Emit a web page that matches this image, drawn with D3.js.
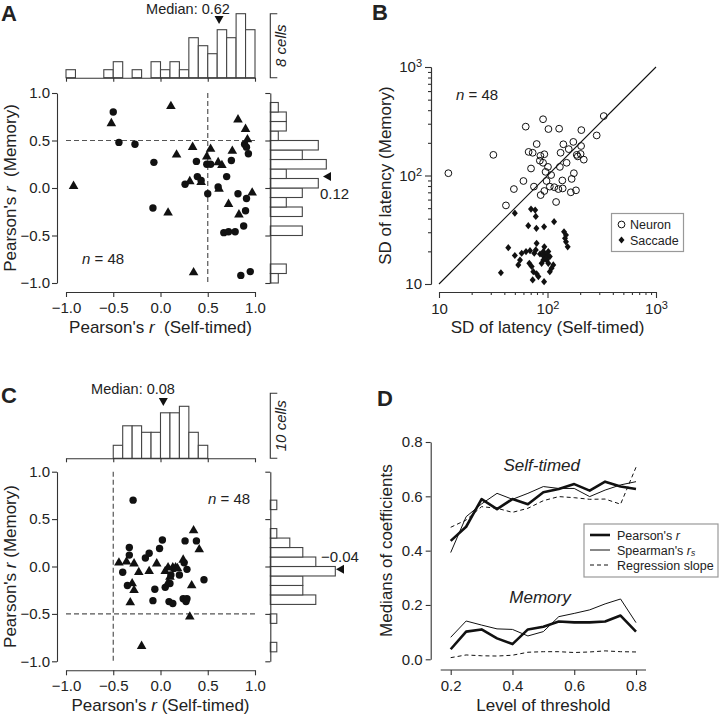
<!DOCTYPE html>
<html><head><meta charset="utf-8">
<script src="https://cdn.jsdelivr.net/npm/d3@7"></script>
<style>
body{margin:0;background:#fff}
svg{display:block}
text{font-family:"Liberation Sans",Arial,Helvetica,sans-serif;fill:#222}
</style>
</head><body>
<svg id="fig" width="720" height="716"></svg>
<script>
// ---------------- DATA ----------------
const rTicks = [-1, -0.5, 0, 0.5, 1];
const rTickLabels = ["\u22121.0", "\u22120.5", "0.0", "0.5", "1.0"];
const binStarts = [-1.0,-0.9,-0.8,-0.7,-0.6,-0.5,-0.4,-0.3,-0.2,-0.1,0.0,0.1,0.2,0.3,0.4,0.5,0.6,0.7,0.8,0.9];

// Panel A
const aCircles = [[-0.50,0.80],[-0.44,0.48],[-0.27,0.46],[-0.07,0.27],[-0.08,-0.21],[0.38,0.28],[0.26,0.04],[0.39,0.12],[0.43,0.08],[0.50,-0.06],[0.49,0.25],[0.53,0.25],[0.61,0.01],[0.70,0.12],[0.75,0.29],[0.82,-0.06],[0.91,-0.11],[0.90,-0.24],[0.88,-0.40],[0.67,-0.47],[0.72,-0.46],[0.79,-0.46],[0.85,-0.92],[0.95,-0.88],[0.89,0.46],[0.91,0.43],[0.93,0.36]];
const aTriangles = [[0.11,0.86],[-0.52,0.68],[-0.92,0.02],[0.17,0.35],[0.34,0.43],[0.53,0.41],[0.49,0.33],[0.61,0.27],[0.65,0.24],[0.76,0.39],[0.82,0.72],[0.90,0.62],[0.92,0.51],[0.31,0.07],[0.43,0.06],[0.62,-0.01],[0.97,-0.05],[0.72,-0.17],[0.83,-0.28],[0.08,-0.26],[0.35,-0.89]];
const aTopCounts = [1,0,0,0,1,2,0,1,0,2,1,2,1,5,4,3,6,5,8,6];
const aRightCounts = [1,2,0,0,0,4,0,4,2,4,6,2,7,4,6,1,2,2,1,0];
const aMedianX = 0.62, aMedianY = 0.12;

// Panel C
const cCircles = [[-0.29,0.70],[-0.33,0.20],[-0.33,0.12],[-0.40,-0.06],[-0.35,-0.20],[-0.16,0.09],[-0.12,0.14],[-0.01,0.19],[0.02,0.28],[0.26,0.27],[0.38,0.27],[-0.06,-0.24],[-0.08,-0.36],[0.05,-0.22],[0.09,-0.37],[0.13,-0.39],[0.20,-0.09],[0.28,-0.03],[0.25,0.04],[0.46,-0.14],[0.24,-0.34],[0.27,-0.37],[0.28,-0.34],[0.10,-0.18],[0.14,-0.02],[0.11,-0.09]];
const cTriangles = [[-0.44,0.04],[-0.36,0.05],[-0.28,0.03],[-0.23,-0.06],[-0.12,-0.05],[-0.04,0.03],[-0.30,-0.18],[-0.28,-0.25],[-0.32,-0.38],[0.08,-0.01],[0.13,-0.01],[0.16,-0.01],[0.10,-0.11],[0.08,-0.17],[0.24,0.07],[0.33,-0.20],[0.35,0.38],[0.41,0.18],[0.31,-0.53],[-0.20,-0.84],[0.18,-0.02],[0.05,-0.05]];
const cTopCounts = [0,0,0,0,0,2,5,5,4,4,7,7,8,4,2,0,0,0,0,0];
const cRightCounts = [0,1,0,0,1,0,7,5,5,10,7,5,3,1,0,0,1,0,0,0];
const cMedianX = 0.03, cMedianY = -0.03;

// Panel B (SD of latency, ms)
const bTicksMajor = [10, 100, 1000];
const bTicksMinor = [20,30,40,50,60,70,80,90,200,300,400,500,600,700,800,900];
const bNeuron = [[12.2,105],[31.7,155],[41.4,53],[49,75],[60,89],[63,282],[67,165],[73,162],[70.5,116],[75,79],[79.5,195],[86,152],[93.5,157],[85,137],[91,131],[101,120],[91,330],[102,268],[128,270],[98,89],[86.5,66],[93.5,72],[105,79],[108,101],[115.5,78],[126,75],[120,57],[137,90],[138,76],[130,120],[132,162],[140,194],[150,131],[157,175],[173,204],[167,93],[175,105],[164,70],[183,73],[186,155],[202,158],[204,187],[216,140],[205,262],[284,234],[330,353],[96,108],[190,150]];
const bSaccade = [[50,45],[70.5,49],[77,48],[78,42],[66.5,34.5],[79,32.6],[93,33.7],[115,37.5],[142,30.3],[148,28.3],[145,26.4],[153.5,22],[43.5,21.6],[79.4,23.7],[93.5,22],[50,18.3],[57.8,19.2],[63.4,19.9],[69,20.3],[75.5,19.2],[85.3,18.9],[91.5,19.9],[94.8,17.9],[99.6,18.1],[91.5,16.6],[98.4,16.6],[101.7,15.5],[88.3,15.5],[109,14],[105,13],[55.8,16.6],[53.8,15],[68,15.5],[71.5,14.5],[74,13],[79.4,12.4],[82.4,11.7],[73,10.9],[93,10.5],[37.2,12.7],[101.7,19.9],[105,17.9],[78,20.6],[113,15],[96,18.8],[90,18.5],[148,24.5],[97,17.2]];
const bLegend = ["Neuron", "Saccade"];

// Panel D
const dThresh = [0.2,0.25,0.3,0.35,0.4,0.45,0.5,0.55,0.6,0.65,0.7,0.75,0.8];
const dSelfPearson  = [0.436,0.488,0.590,0.553,0.590,0.571,0.615,0.627,0.645,0.621,0.654,0.636,0.627];
const dSelfSpearman = [0.393,0.525,0.572,0.611,0.589,0.611,0.636,0.629,0.629,0.599,0.623,0.642,0.654];
const dSelfSlope    = [0.486,0.513,0.562,0.556,0.541,0.556,0.584,0.599,0.595,0.589,0.590,0.571,0.707];
const dMemPearson   = [0.037,0.102,0.110,0.077,0.056,0.110,0.120,0.139,0.136,0.136,0.139,0.161,0.102];
const dMemSpearman  = [0.081,0.141,0.126,0.112,0.110,0.086,0.102,0.157,0.169,0.182,0.204,0.222,0.135];
const dMemSlope     = [0.006,0.016,0.013,0.012,0.015,0.026,0.028,0.028,0.025,0.027,0.031,0.028,0.027];
const dYTicks = [0, 0.2, 0.4, 0.6, 0.8];
const dXTicks = [0.2, 0.4, 0.6, 0.8];

// ---------------- DRAWING ----------------
const svg = d3.select("#fig");
const INK = "#111", AX = "#333", BAR = "#444", DASH = "#555";
const FT = 15, FL = 17;

function styleAxis(g, fs) {
  g.attr("font-family", null).attr("font-size", null);
  g.selectAll("path.domain").attr("stroke", AX).attr("stroke-width", 1.1);
  g.selectAll(".tick line").attr("stroke", AX).attr("stroke-width", 1.1);
  g.selectAll(".tick text").attr("font-size", fs).attr("fill", "#222")
    .style("font-family", '"Liberation Sans",Arial,sans-serif');
}

function panelLetter(t, x, y) {
  svg.append("text").attr("x", x).attr("y", y).attr("font-size", 22)
    .attr("font-weight", "bold").attr("fill", "#111").text(t);
}

function nLabel(x, y) {
  const t = svg.append("text").attr("x", x).attr("y", y).attr("font-size", FT);
  t.append("tspan").attr("font-style", "italic").text("n");
  t.append("tspan").text(" = 48");
}

function rPanel(c) {
  const x = d3.scaleLinear().domain([-1, 1]).range([66, 255]);
  const y = d3.scaleLinear().domain([-1, 1]).range(c.yRange);
  const yAxisX = 57, xAxisY = y(-1) + 9;
  const cnt = d3.scaleLinear().domain([0, c.scaleCells]).range([0, c.scalePx]);
  const bw = 0.1;

  const ya = svg.append("g").attr("transform", `translate(${yAxisX},0)`)
    .call(d3.axisLeft(y).tickValues(rTicks).tickFormat((d, i) => rTickLabels[i]).tickSize(5).tickSizeOuter(0).tickPadding(2));
  styleAxis(ya, FT);
  const xa = svg.append("g").attr("transform", `translate(0,${xAxisY})`)
    .call(d3.axisBottom(x).tickValues(rTicks).tickFormat((d, i) => rTickLabels[i]).tickSize(5).tickSizeOuter(0).tickPadding(5));
  styleAxis(xa, FT);

  const xt = svg.append("text").attr("x", (x(-1) + x(1)) / 2).attr("y", xAxisY + 41)
    .attr("text-anchor", "middle").attr("font-size", FL);
  xt.append("tspan").text("Pearson's ");
  xt.append("tspan").attr("font-style", "italic").text("r");
  xt.append("tspan").attr("xml:space", "preserve").text(c.gap + "(Self-timed)");
  const yt = svg.append("text").attr("transform", `translate(16,${(y(-1) + y(1)) / 2}) rotate(-90)`)
    .attr("text-anchor", "middle").attr("font-size", FL);
  yt.append("tspan").text("Pearson's ");
  yt.append("tspan").attr("font-style", "italic").text("r");
  yt.append("tspan").attr("xml:space", "preserve").text(c.gap + "(Memory)");

  svg.append("line").attr("x1", x(-1)).attr("x2", x(1)).attr("y1", y(c.dashY)).attr("y2", y(c.dashY))
    .attr("stroke", DASH).attr("stroke-width", 1.2).attr("stroke-dasharray", "5,3");
  svg.append("line").attr("x1", x(c.dashX)).attr("x2", x(c.dashX)).attr("y1", y(1)).attr("y2", y(-1))
    .attr("stroke", DASH).attr("stroke-width", 1.2).attr("stroke-dasharray", "5,3");

  svg.append("g").selectAll("circle").data(c.circles).join("circle")
    .attr("cx", d => x(d[0])).attr("cy", d => y(d[1])).attr("r", 3.7).attr("fill", INK);
  const tri = d3.symbol().type(d3.symbolTriangle).size(40);
  svg.append("g").selectAll("path").data(c.triangles).join("path")
    .attr("transform", d => `translate(${x(d[0])},${y(d[1])})`).attr("d", tri).attr("fill", INK);

  const tb = c.topBase;
  svg.append("g").selectAll("rect").data(c.topCounts.map((v, i) => [binStarts[i], v]).filter(d => d[1] > 0)).join("rect")
    .attr("x", d => x(d[0])).attr("width", d => x(d[0] + bw) - x(d[0]))
    .attr("y", d => tb - cnt(d[1])).attr("height", d => cnt(d[1]))
    .attr("fill", "#fff").attr("stroke", BAR).attr("stroke-width", 1.1);
  const ta = svg.append("g").attr("transform", `translate(0,${tb})`)
    .call(d3.axisBottom(x).tickValues(rTicks).tickFormat("").tickSize(4).tickSizeOuter(0));
  styleAxis(ta, FT);

  const rb = 270.3;
  svg.append("g").selectAll("rect").data(c.rightCounts.map((v, i) => [binStarts[i], v]).filter(d => d[1] > 0)).join("rect")
    .attr("x", rb).attr("width", d => cnt(d[1]))
    .attr("y", d => y(d[0] + bw)).attr("height", d => y(d[0]) - y(d[0] + bw))
    .attr("fill", "#fff").attr("stroke", BAR).attr("stroke-width", 1.1);
  const ra = svg.append("g").attr("transform", `translate(${rb},0)`)
    .call(d3.axisLeft(y).tickValues(rTicks).tickFormat("").tickSize(5).tickSizeOuter(0));
  styleAxis(ra, FT);

  svg.append("path").attr("d", `M${rb + 7},${tb - cnt(c.scaleCells)}H${rb}V${tb}H${rb + 7}`)
    .attr("fill", "none").attr("stroke", AX).attr("stroke-width", 1.1);
  svg.append("text").attr("transform", `translate(${rb + 16},${tb - cnt(c.scaleCells) / 2}) rotate(-90)`)
    .attr("text-anchor", "middle").attr("font-size", FT).attr("font-style", "italic").text(c.scaleLabel);

  const mx = x(c.medX);
  svg.append("path").attr("d", `M${mx - 4.5},${c.medTriY}L${mx + 4.5},${c.medTriY}L${mx},${c.medTriY + 8}Z`).attr("fill", INK);
  svg.append("text").attr("x", c.medTextX).attr("y", c.medTextY).attr("text-anchor", "middle")
    .attr("font-size", 14.5).text(c.medText);
  const my = y(c.medY);
  svg.append("path").attr("d", `M${c.arrowX},${my}L${c.arrowX + 8},${my - 4.5}L${c.arrowX + 8},${my + 4.5}Z`).attr("fill", INK);
  svg.append("text").attr("x", c.rTextX).attr("y", c.rTextY).attr("font-size", FT).text(c.rText);

  nLabel(c.nX, c.nY);
}

rPanel({
  yRange: [283, 93], gap: "  ", dashX: 0.5, dashY: 0.5,
  circles: aCircles, triangles: aTriangles, topCounts: aTopCounts, rightCounts: aRightCounts,
  topBase: 77.7, scaleCells: 8, scalePx: 64, scaleLabel: "8 cells",
  medX: aMedianX, medTriY: 16, medTextX: 188, medTextY: 13.5, medText: "Median: 0.62",
  medY: aMedianY, arrowX: 323, rTextX: 320, rTextY: 198.5, rText: "0.12",
  nX: 82, nY: 264
});
rPanel({
  yRange: [661.3, 471.7], gap: " ", dashX: -0.5, dashY: -0.5,
  circles: cCircles, triangles: cTriangles, topCounts: cTopCounts, rightCounts: cRightCounts,
  topBase: 458.3, scaleCells: 10, scalePx: 65, scaleLabel: "10 cells",
  medX: cMedianX, medTriY: 398, medTextX: 133, medTextY: 394, medText: "Median: 0.08",
  medY: cMedianY, arrowX: 336, rTextX: 321, rTextY: 561.5, rText: "\u22120.04",
  nX: 208, nY: 503.5
});
panelLetter("A", 1, 21);
panelLetter("C", 1, 403);

// Panel B
(function () {
  const x = d3.scaleLog().domain([10, 1000]).range([439, 656]);
  const y = d3.scaleLog().domain([10, 1000]).range([284, 67]);
  const supFmt = (sel) => sel.each(function (d) {
    const t = d3.select(this); t.text(null);
    const e = Math.round(Math.log10(d));
    t.append("tspan").text("10");
    if (e > 1) t.append("tspan").attr("dy", "-0.45em").attr("font-size", 11).text(e === 2 ? "2" : "3");
  });
  const yMin = svg.append("g").attr("transform", "translate(431,0)")
    .call(d3.axisLeft(y).tickValues(bTicksMinor).tickFormat("").tickSize(3).tickSizeOuter(0));
  styleAxis(yMin, FT);
  const yMaj = svg.append("g").attr("transform", "translate(431,0)")
    .call(d3.axisLeft(y).tickValues(bTicksMajor).tickSize(6).tickSizeOuter(0).tickPadding(3));
  styleAxis(yMaj, FT);
  yMaj.selectAll(".tick text").call(supFmt);
  const xMin = svg.append("g").attr("transform", "translate(0,292)")
    .call(d3.axisBottom(x).tickValues(bTicksMinor).tickFormat("").tickSize(3).tickSizeOuter(0));
  styleAxis(xMin, FT);
  const xMaj = svg.append("g").attr("transform", "translate(0,292)")
    .call(d3.axisBottom(x).tickValues(bTicksMajor).tickSize(6).tickSizeOuter(0).tickPadding(5));
  styleAxis(xMaj, FT);
  xMaj.selectAll(".tick text").call(supFmt);

  svg.append("line").attr("x1", x(10)).attr("y1", y(10)).attr("x2", x(1000)).attr("y2", y(1000))
    .attr("stroke", INK).attr("stroke-width", 1.1);

  svg.append("g").selectAll("circle").data(bNeuron).join("circle")
    .attr("cx", d => x(d[0])).attr("cy", d => y(d[1])).attr("r", 3.4)
    .attr("fill", "none").attr("stroke", INK).attr("stroke-width", 1);
  const dia = (cx, cy) => `M${cx},${cy - 3.6}L${cx + 3},${cy}L${cx},${cy + 3.6}L${cx - 3},${cy}Z`;
  svg.append("g").selectAll("path").data(bSaccade).join("path")
    .attr("d", d => dia(x(d[0]), y(d[1]))).attr("fill", INK);

  svg.append("text").attr("x", (x(10) + x(1000)) / 2).attr("y", 333).attr("text-anchor", "middle")
    .attr("font-size", FL).text("SD of latency (Self-timed)");
  svg.append("text").attr("transform", `translate(391,${(y(10) + y(1000)) / 2}) rotate(-90)`)
    .attr("text-anchor", "middle").attr("font-size", FL).text("SD of latency (Memory)");
  nLabel(456, 100);

  const lg = svg.append("g");
  lg.append("rect").attr("x", 611.5).attr("y", 213.5).attr("width", 72).attr("height", 38)
    .attr("fill", "#fff").attr("stroke", "#999").attr("stroke-width", 1.2);
  lg.append("circle").attr("cx", 621.5).attr("cy", 224.5).attr("r", 3.4).attr("fill", "none").attr("stroke", INK);
  lg.append("path").attr("d", dia(621.5, 240)).attr("fill", INK);
  lg.selectAll("text").data(bLegend).join("text").attr("x", 630).attr("y", (d, i) => 229 + i * 15.5)
    .attr("font-size", 12.5).text(d => d);
})();
panelLetter("B", 372, 20);

// Panel D
(function () {
  const x = d3.scaleLinear().domain([0.2, 0.8]).range([450.7, 636]);
  const y = d3.scaleLinear().domain([0, 0.8]).range([659.3, 442]);
  const ya = svg.append("g").attr("transform", "translate(430.7,0)")
    .call(d3.axisLeft(y).tickValues(dYTicks).tickFormat(d3.format(".1f")).tickSize(5).tickSizeOuter(0).tickPadding(3));
  styleAxis(ya, FT);
  const xa = svg.append("g").attr("transform", "translate(0,670)")
    .call(d3.axisBottom(x).tickValues(dXTicks).tickFormat(d3.format(".1f")).tickSize(5).tickSizeOuter(0).tickPadding(5));
  styleAxis(xa, FT);
  xa.select("path.domain").remove();
  svg.append("line").attr("x1", x(0.2) - 10).attr("x2", x(0.8) + 10).attr("y1", 670).attr("y2", 670)
    .attr("stroke", AX).attr("stroke-width", 1.1);

  svg.append("text").attr("x", (x(0.2) + x(0.8)) / 2).attr("y", 711).attr("text-anchor", "middle")
    .attr("font-size", FL).text("Level of threshold");
  svg.append("text").attr("transform", `translate(392,${(y(0) + y(0.8)) / 2}) rotate(-90)`)
    .attr("text-anchor", "middle").attr("font-size", FL).text("Medians of coefficients");

  const line = d3.line().x((d, i) => x(dThresh[i])).y(d => y(d));
  const series = [
    [dSelfPearson, 2.6, null], [dSelfSpearman, 1, null], [dSelfSlope, 1, "4,3"],
    [dMemPearson, 2.6, null], [dMemSpearman, 1, null], [dMemSlope, 1, "4,3"]
  ];
  series.forEach(s => svg.append("path").attr("d", line(s[0])).attr("fill", "none")
    .attr("stroke", INK).attr("stroke-width", s[1]).attr("stroke-dasharray", s[2])
    .attr("stroke-linejoin", "round"));

  svg.append("text").attr("x", 541.7).attr("y", 471).attr("text-anchor", "middle")
    .attr("font-size", FL).attr("font-style", "italic").text("Self-timed");
  svg.append("text").attr("x", 540).attr("y", 603).attr("text-anchor", "middle")
    .attr("font-size", FL).attr("font-style", "italic").text("Memory");

  const lg = svg.append("g");
  lg.append("rect").attr("x", 584).attr("y", 524).attr("width", 134).attr("height", 53)
    .attr("fill", "#fff").attr("stroke", "#999").attr("stroke-width", 1.2);
  const items = [[2.6, null], [1, null], [1, "4,3"]];
  items.forEach((it, i) => lg.append("line").attr("x1", 590).attr("x2", 610).attr("y1", 535 + i * 15).attr("y2", 535 + i * 15)
    .attr("stroke", INK).attr("stroke-width", it[0]).attr("stroke-dasharray", it[1]));
  const t1 = lg.append("text").attr("x", 617).attr("y", 539.5).attr("font-size", 12.5);
  t1.append("tspan").text("Pearson's ");
  t1.append("tspan").attr("font-style", "italic").text("r");
  const t2 = lg.append("text").attr("x", 617).attr("y", 554.5).attr("font-size", 12.5);
  t2.append("tspan").text("Spearman's ");
  t2.append("tspan").attr("font-style", "italic").text("r");
  t2.append("tspan").attr("font-style", "italic").attr("font-size", 8.5).attr("dy", 1).text("s");
  lg.append("text").attr("x", 617).attr("y", 569.5).attr("font-size", 12.5).text("Regression slope");
})();
panelLetter("D", 377, 406);
</script>
</body></html>
